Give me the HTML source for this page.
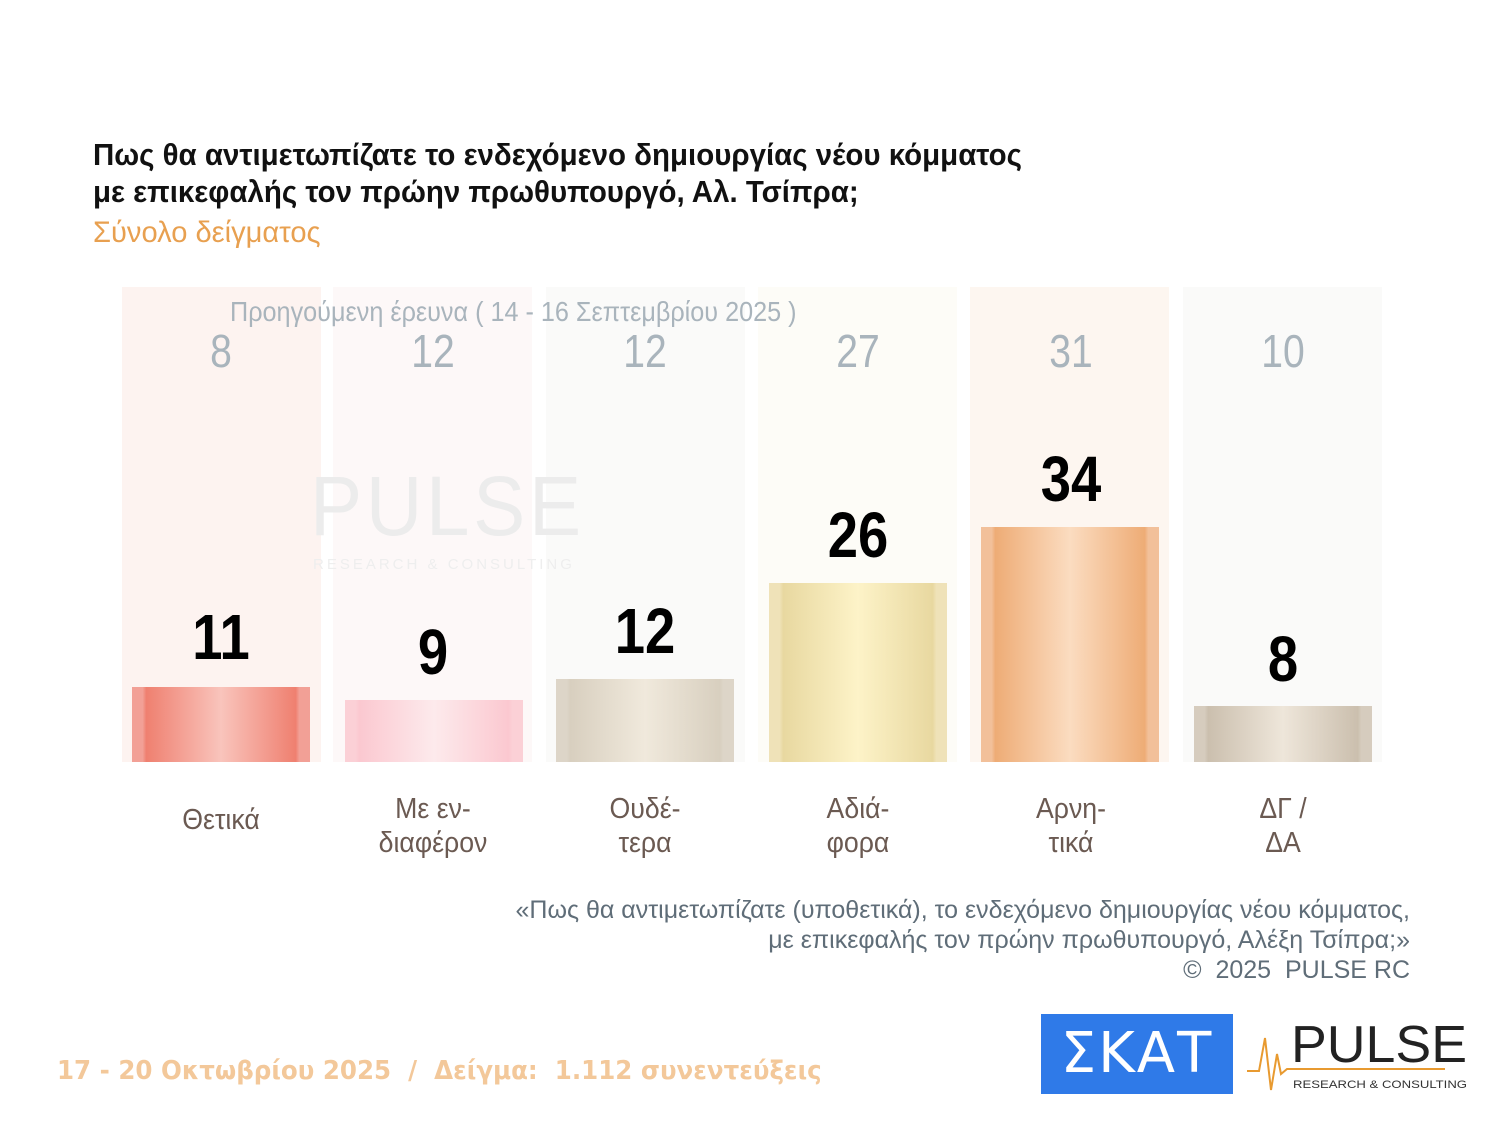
<!DOCTYPE html>
<html><head><meta charset="utf-8"><style>
body{margin:0;width:1500px;height:1125px;background:#fff;position:relative;overflow:hidden;font-family:"Liberation Sans Narrow","Liberation Sans",sans-serif}
.a{position:absolute}
.t{left:93px;font-weight:bold;font-size:31px;color:#111;white-space:nowrap;transform:scaleX(0.95);transform-origin:0 0}
.panel{top:287px;height:475px;width:199px}
.bar{bottom:363px;width:178px}
.big{font-weight:bold;font-size:64px;color:#000;width:200px;text-align:center;transform:scaleX(0.85)}
.prev{top:324px;font-size:46px;color:#a9b4bc;width:200px;text-align:center;transform:scaleX(0.85)}
.cat{top:800px;font-size:29px;color:#6b5a52;width:200px;text-align:center;line-height:34px;transform:scaleX(0.92)}
</style></head><body>
<div class="a t" style="top:137px">Πως θα αντιμετωπίζατε το ενδεχόμενο δημιουργίας νέου κόμματος</div>
<div class="a t" style="top:174px">με επικεφαλής τον πρώην πρωθυπουργό, Αλ. Τσίπρα;</div>
<div class="a" style="left:93px;top:216px;font-size:30px;color:#e8a050;transform:scaleX(0.97);transform-origin:0 0">Σύνολο δείγματος</div>

<div class="a panel" style="left:122px;background:#fdf3f0"></div>
<div class="a panel" style="left:333px;background:#fdf8f8"></div>
<div class="a panel" style="left:546px;background:#fafaf9"></div>
<div class="a panel" style="left:758px;background:#fdfcf7"></div>
<div class="a panel" style="left:970px;background:#fdf6f0"></div>
<div class="a panel" style="left:1183px;background:#fafaf9"></div>

<div class="a" style="left:310px;top:458px;font-size:84px;color:#ececec;letter-spacing:4px;transform:scaleX(0.93);transform-origin:0 0">PULSE</div>
<div class="a" style="left:313px;top:556px;font-size:15px;color:#eee;letter-spacing:3px">RESEARCH &amp; CONSULTING</div>

<div class="a" style="left:230px;top:296px;font-size:28px;color:#a9b4bc;white-space:nowrap;transform:scaleX(0.9);transform-origin:0 0">Προηγούμενη έρευνα ( 14 - 16 Σεπτεμβρίου 2025 )</div>
<div class="a prev" style="left:121px">8</div>
<div class="a prev" style="left:333px">12</div>
<div class="a prev" style="left:545px">12</div>
<div class="a prev" style="left:758px">27</div>
<div class="a prev" style="left:971px">31</div>
<div class="a prev" style="left:1183px">10</div>

<div class="a bar" style="left:132px;height:75px;background:linear-gradient(90deg,#f2a096 0 6%,#ef8070 8%,#f9c4bc 50%,#ef8070 92%,#f2a096 94%)"></div>
<div class="a bar" style="left:345px;height:62px;background:linear-gradient(90deg,#fbd0d6 0 6%,#fbc8d0 8%,#fdeaec 50%,#fbc8d0 92%,#fbd0d6 94%)"></div>
<div class="a bar" style="left:556px;height:83px;background:linear-gradient(90deg,#ddd5c8 0 6%,#d8cfbf 8%,#f0e9dc 50%,#d8cfbf 92%,#ddd5c8 94%)"></div>
<div class="a bar" style="left:769px;height:179px;background:linear-gradient(90deg,#efe2b8 0 6%,#e8d8a0 8%,#fdf3c8 50%,#e8d8a0 92%,#efe2b8 94%)"></div>
<div class="a bar" style="left:981px;height:235px;background:linear-gradient(90deg,#f2c09a 0 6%,#eeac76 8%,#fbdcc0 50%,#eeac76 92%,#f2c09a 94%)"></div>
<div class="a bar" style="left:1194px;height:56px;background:linear-gradient(90deg,#d6ccbe 0 6%,#cbbfae 8%,#eee6da 50%,#cbbfae 92%,#d6ccbe 94%)"></div>

<div class="a big" style="left:121px;top:600px">11</div>
<div class="a big" style="left:333px;top:615px">9</div>
<div class="a big" style="left:545px;top:594px">12</div>
<div class="a big" style="left:758px;top:498px">26</div>
<div class="a big" style="left:971px;top:442px">34</div>
<div class="a big" style="left:1183px;top:622px">8</div>

<div class="a cat" style="left:121px;top:803px">Θετικά</div>
<div class="a cat" style="left:333px;top:792px">Με εν-<br>διαφέρον</div>
<div class="a cat" style="left:545px;top:792px">Ουδέ-<br>τερα</div>
<div class="a cat" style="left:758px;top:792px">Αδιά-<br>φορα</div>
<div class="a cat" style="left:971px;top:792px">Αρνη-<br>τικά</div>
<div class="a cat" style="left:1183px;top:792px">ΔΓ /<br>ΔΑ</div>

<div class="a" style="right:90px;top:895px;font-size:25px;color:#5f6d78;text-align:right;line-height:30px;white-space:nowrap">«Πως θα αντιμετωπίζατε (υποθετικά), το ενδεχόμενο δημιουργίας νέου κόμματος,<br>με επικεφαλής τον πρώην πρωθυπουργό, Αλέξη Τσίπρα;»<br>©&nbsp; 2025&nbsp; PULSE RC</div>

<div class="a" style="left:57px;top:1056px;font-family:'DejaVu Sans',sans-serif;font-weight:bold;font-size:26px;color:#f3c89a;white-space:nowrap;transform:scaleX(0.943);transform-origin:0 0">17 - 20 Οκτωβρίου 2025&nbsp; / &nbsp;Δείγμα:&nbsp; 1.112 συνεντεύξεις</div>

<div class="a" style="left:1041px;top:1014px;width:192px;height:80px;background:#2f7ae8;color:#fff;font-family:'DejaVu Sans',sans-serif;font-size:56px;text-align:center;line-height:80px;letter-spacing:2px">ΣΚΑΤ</div>
<svg class="a" style="left:1245px;top:1016px" width="230" height="80">
<polyline points="2,55 14,55 20,22 26,74 32,38 36,58 42,53 200,53" fill="none" stroke="#e89a30" stroke-width="2"/>
<text x="46" y="46" font-family="Liberation Sans" font-size="52" fill="#222" textLength="176" lengthAdjust="spacingAndGlyphs">PULSE</text>
<text x="48" y="72" font-family="Liberation Sans" font-size="11" fill="#333" textLength="174" lengthAdjust="spacingAndGlyphs">RESEARCH &amp; CONSULTING</text>
</svg>
</body></html>
